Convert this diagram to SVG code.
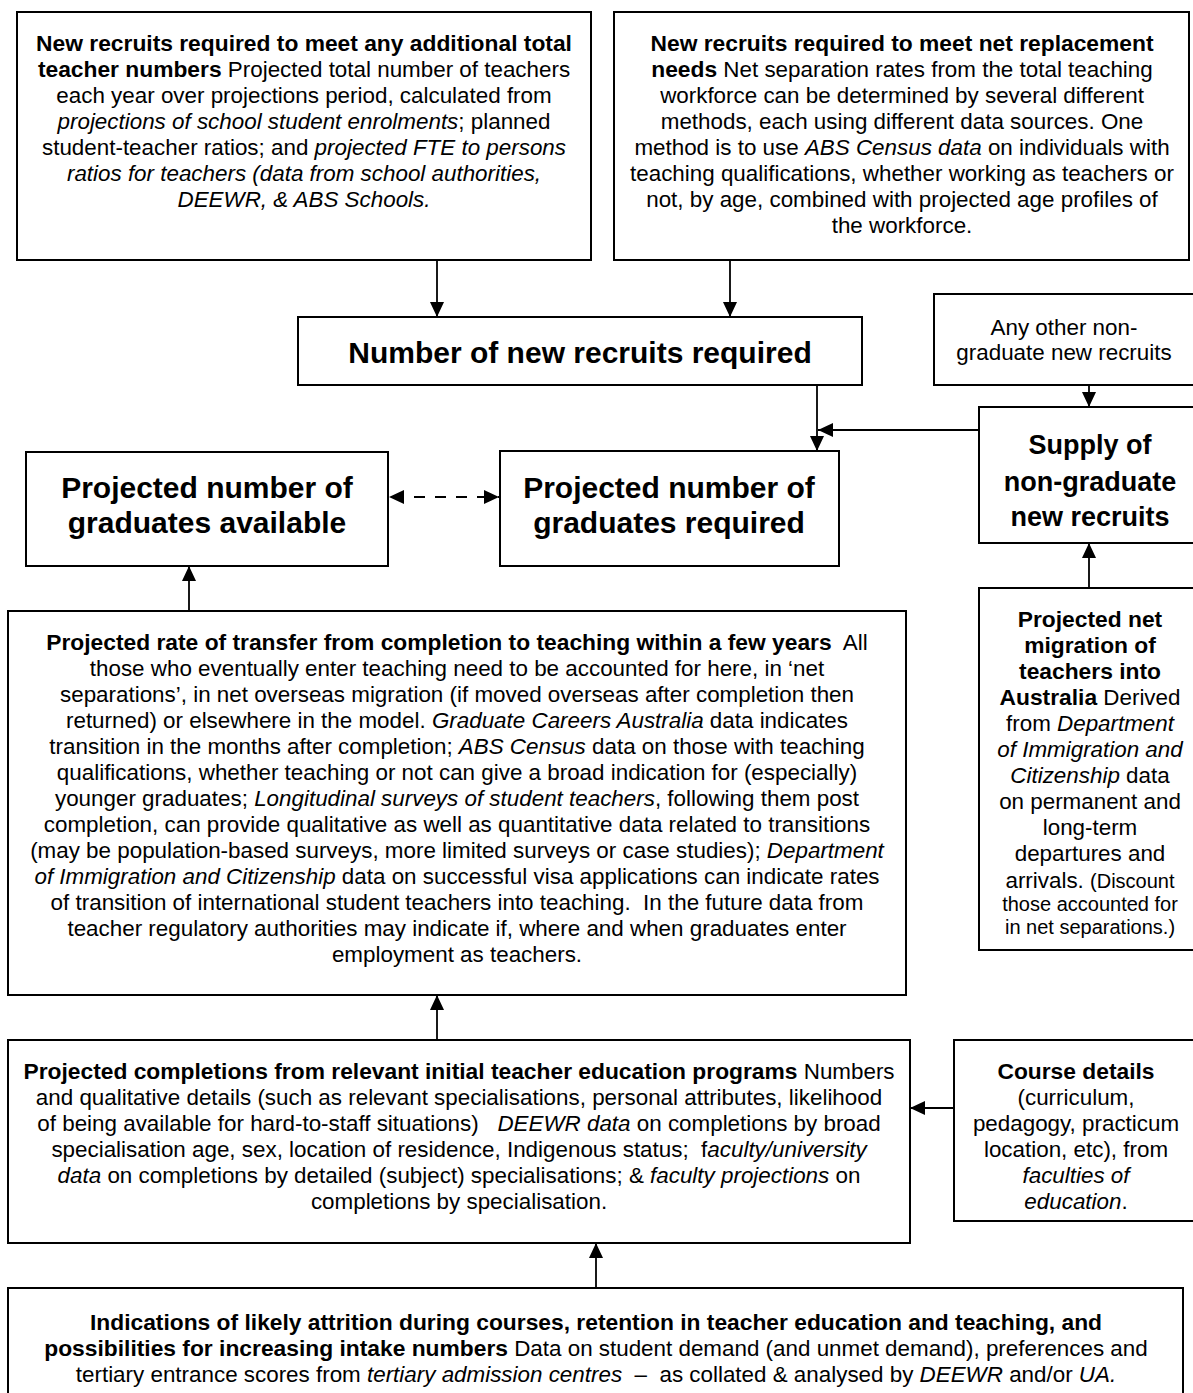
<svg xmlns="http://www.w3.org/2000/svg" width="1193" height="1393" viewBox="0 0 1193 1393">
<style>
.box{fill:#fff;stroke:#000;stroke-width:2}
.t{font-family:"Liberation Sans",Arial,sans-serif;font-size:22.4px;fill:#000;text-anchor:middle}
.t .b,.t.b{font-size:22.8px}
.s{font-size:20px}
.big{font-family:"Liberation Sans",Arial,sans-serif;font-size:30px;font-weight:bold;fill:#000;text-anchor:middle}
.b{font-weight:bold}
.i{font-style:italic}
.c{stroke:#000;stroke-width:1.8;fill:none}
</style>
<defs>
<marker id="ah" viewBox="0 0 15 14" refX="15" refY="7" markerWidth="15" markerHeight="14" markerUnits="userSpaceOnUse" orient="auto-start-reverse">
<path d="M0,0 L15,7 L0,14 Z" fill="#000"/>
</marker>
</defs>
<rect width="1193" height="1393" fill="#fff"/>

<g id="connectors">
<line class="c" x1="437" y1="260" x2="437" y2="317" marker-end="url(#ah)"/>
<line class="c" x1="730" y1="260" x2="730" y2="317" marker-end="url(#ah)"/>
<line class="c" x1="817" y1="385" x2="817" y2="451" marker-end="url(#ah)"/>
<line class="c" x1="979" y1="430" x2="818" y2="430" marker-end="url(#ah)"/>
<line class="c" x1="1089" y1="385" x2="1089" y2="407" marker-end="url(#ah)"/>
<line class="c" x1="1089" y1="588" x2="1089" y2="543" marker-end="url(#ah)"/>
<line class="c" x1="189" y1="611" x2="189" y2="566" marker-end="url(#ah)"/>
<line class="c" x1="389" y1="497" x2="499" y2="497" stroke-dasharray="11,10" stroke-dashoffset="-4" stroke-width="3" marker-start="url(#ah)" marker-end="url(#ah)"/>
<line class="c" x1="437" y1="1040" x2="437" y2="995" marker-end="url(#ah)"/>
<line class="c" x1="954" y1="1108" x2="910" y2="1108" marker-end="url(#ah)"/>
<line class="c" x1="596" y1="1288" x2="596" y2="1243" marker-end="url(#ah)"/>
</g>

<g id="n-additional">
<rect class="box" x="17" y="12" width="574" height="248"/>
<text class="t" x="304" y="51"><tspan class="b">New recruits required to meet any additional total</tspan></text>
<text class="t" x="304" y="77"><tspan class="b">teacher numbers</tspan> Projected total number of teachers</text>
<text class="t" x="304" y="103">each year over projections period, calculated from</text>
<text class="t" x="304" y="129"><tspan class="i">projections of school student enrolments</tspan>; planned</text>
<text class="t" x="304" y="155">student-teacher ratios; and <tspan class="i">projected FTE to persons</tspan></text>
<text class="t i" x="304" y="181">ratios for teachers (data from school authorities,</text>
<text class="t i" x="304" y="207">DEEWR, &amp; ABS Schools.</text>
</g>

<g id="n-replacement">
<rect class="box" x="614" y="12" width="575" height="248"/>
<text class="t" x="902" y="51"><tspan class="b">New recruits required to meet net replacement</tspan></text>
<text class="t" x="902" y="77"><tspan class="b">needs</tspan> Net separation rates from the total teaching</text>
<text class="t" x="902" y="103">workforce can be determined by several different</text>
<text class="t" x="902" y="129">methods, each using different data sources. One</text>
<text class="t" x="902" y="155">method is to use <tspan class="i">ABS Census data</tspan> on individuals with</text>
<text class="t" x="902" y="181">teaching qualifications, whether working as teachers or</text>
<text class="t" x="902" y="207">not, by age, combined with projected age profiles of</text>
<text class="t" x="902" y="233">the workforce.</text>
</g>

<g id="n-number">
<rect class="box" x="298" y="317" width="564" height="68"/>
<text class="big" x="580" y="363">Number of new recruits required</text>
</g>

<g id="n-other">
<rect class="box" x="934" y="294" width="270" height="91"/>
<text class="t" x="1064" y="335">Any other non-</text>
<text class="t" x="1064" y="360">graduate new recruits</text>
</g>

<g id="n-supply">
<rect class="box" x="979" y="407" width="225" height="136"/>
<text class="big" x="1090" y="454" style="font-size:27px">Supply of</text>
<text class="big" x="1090" y="491" style="font-size:27px">non-graduate</text>
<text class="big" x="1090" y="526" style="font-size:27px">new recruits</text>
</g>

<g id="n-available">
<rect class="box" x="26" y="452" width="362" height="114"/>
<text class="big" x="207" y="498">Projected number of</text>
<text class="big" x="207" y="533">graduates available</text>
</g>

<g id="n-required">
<rect class="box" x="500" y="451" width="339" height="115"/>
<text class="big" x="669" y="498">Projected number of</text>
<text class="big" x="669" y="533">graduates required</text>
</g>

<g id="n-transfer">
<rect class="box" x="8" y="611" width="898" height="384"/>
<text class="t" x="457" y="650" xml:space="preserve"><tspan class="b">Projected rate of transfer from completion to teaching within a few years</tspan>  All</text>
<text class="t" x="457" y="676">those who eventually enter teaching need to be accounted for here, in ‘net</text>
<text class="t" x="457" y="702">separations’, in net overseas migration (if moved overseas after completion then</text>
<text class="t" x="457" y="728">returned) or elsewhere in the model. <tspan class="i">Graduate Careers Australia</tspan> data indicates</text>
<text class="t" x="457" y="754">transition in the months after completion; <tspan class="i">ABS Census</tspan> data on those with teaching</text>
<text class="t" x="457" y="780">qualifications, whether teaching or not can give a broad indication for (especially)</text>
<text class="t" x="457" y="806">younger graduates; <tspan class="i">Longitudinal surveys of student teachers</tspan>, following them post</text>
<text class="t" x="457" y="832">completion, can provide qualitative as well as quantitative data related to transitions</text>
<text class="t" x="457" y="858">(may be population-based surveys, more limited surveys or case studies); <tspan class="i">Department</tspan></text>
<text class="t" x="457" y="884"><tspan class="i">of Immigration and Citizenship</tspan> data on successful visa applications can indicate rates</text>
<text class="t" x="457" y="910" xml:space="preserve">of transition of international student teachers into teaching.  In the future data from</text>
<text class="t" x="457" y="936">teacher regulatory authorities may indicate if, where and when graduates enter</text>
<text class="t" x="457" y="962">employment as teachers.</text>
</g>

<g id="n-migration">
<rect class="box" x="979" y="588" width="225" height="362"/>
<text class="t b" x="1090" y="627">Projected net</text>
<text class="t b" x="1090" y="653">migration of</text>
<text class="t b" x="1090" y="679">teachers into</text>
<text class="t" x="1090" y="705"><tspan class="b">Australia</tspan> Derived</text>
<text class="t" x="1090" y="731">from <tspan class="i">Department</tspan></text>
<text class="t i" x="1090" y="757">of Immigration and</text>
<text class="t" x="1090" y="783"><tspan class="i">Citizenship</tspan> data</text>
<text class="t" x="1090" y="809">on permanent and</text>
<text class="t" x="1090" y="835">long-term</text>
<text class="t" x="1090" y="861">departures and</text>
<text class="t" x="1090" y="888">arrivals. <tspan class="s">(Discount</tspan></text>
<text class="t s" x="1090" y="911">those accounted for</text>
<text class="t s" x="1090" y="934">in net separations.)</text>
</g>

<g id="n-completions">
<rect class="box" x="8" y="1040" width="902" height="203"/>
<text class="t" x="459" y="1079"><tspan class="b">Projected completions from relevant initial teacher education programs</tspan> Numbers</text>
<text class="t" x="459" y="1105">and qualitative details (such as relevant specialisations, personal attributes, likelihood</text>
<text class="t" x="459" y="1131" xml:space="preserve">of being available for hard-to-staff situations)   <tspan class="i">DEEWR data</tspan> on completions by broad</text>
<text class="t" x="459" y="1157" xml:space="preserve">specialisation age, sex, location of residence, Indigenous status;  f<tspan class="i">aculty/university</tspan></text>
<text class="t" x="459" y="1183"><tspan class="i">data</tspan> on completions by detailed (subject) specialisations; &amp; <tspan class="i">faculty projections</tspan> on</text>
<text class="t" x="459" y="1209">completions by specialisation.</text>
</g>

<g id="n-course">
<rect class="box" x="954" y="1040" width="250" height="181"/>
<text class="t b" x="1076" y="1079">Course details</text>
<text class="t" x="1076" y="1105">(curriculum,</text>
<text class="t" x="1076" y="1131">pedagogy, practicum</text>
<text class="t" x="1076" y="1157">location, etc), from</text>
<text class="t i" x="1076" y="1183">faculties of</text>
<text class="t" x="1076" y="1209"><tspan class="i">education</tspan>.</text>
</g>

<g id="n-attrition">
<rect class="box" x="8" y="1288" width="1175" height="110"/>
<text class="t" x="596" y="1330"><tspan class="b">Indications of likely attrition during courses, retention in teacher education and teaching, and</tspan></text>
<text class="t" x="596" y="1356"><tspan class="b">possibilities for increasing intake numbers</tspan> Data on student demand (and unmet demand), preferences and</text>
<text class="t" x="596" y="1382" xml:space="preserve">tertiary entrance scores from <tspan class="i">tertiary admission centres</tspan>  –  as collated &amp; analysed by <tspan class="i">DEEWR</tspan> and/or <tspan class="i">UA.</tspan></text>
</g>
</svg>
